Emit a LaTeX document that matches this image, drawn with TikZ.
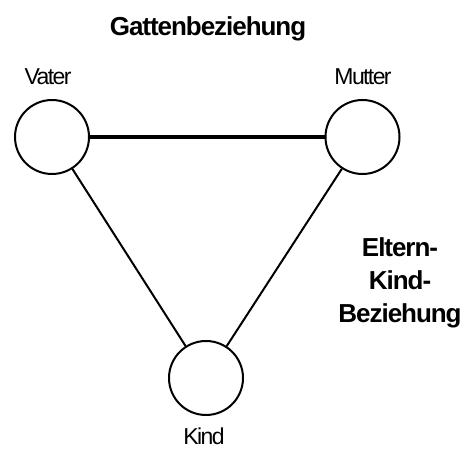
\documentclass[tikz,border=0pt]{standalone}
\usepackage{fontspec}
\setmainfont{Liberation Sans}
\usetikzlibrary{positioning}

\begin{document}
\begin{tikzpicture}[
    x=1pt, y=-1pt,
    person/.style={circle, draw, line width=2pt, minimum size=74pt, inner sep=0pt},
    personlabel/.style={inner sep=1pt, font=\fontsize{23}{26}\selectfont\addfontfeatures{LetterSpace=-7}},
    rel/.style={inner sep=1pt, align=center, font=\fontsize{26}{33}\bfseries\selectfont\addfontfeatures{LetterSpace=-4}}
]
    \useasboundingbox (0,0) rectangle (464,449);

    % Persons
    \node[person] (vater) at (52,137) {};
    \node[person] (mutter) at (362.5,137) {};
    \node[person] (kind) at (206,378) {};

    % Names
    \node[personlabel] (lvater) at (48,77) {Vater};
    \node[personlabel] (lmutter) at (363,77) {Mutter};
    \node[personlabel] (lkind) at (204,436) {Kind};

    % Relations
    \node[rel] (gatten) at (208,29) {Gattenbeziehung};
    \node[rel] (elternkind) at (400,283) {Eltern-\\Kind-\\Beziehung};

    % Edges
    \draw[line width=4.3pt] (vater) -- (mutter);
    \draw[line width=2pt] (vater) -- (kind);
    \draw[line width=2pt] (mutter) -- (kind);
\end{tikzpicture}
\end{document}
